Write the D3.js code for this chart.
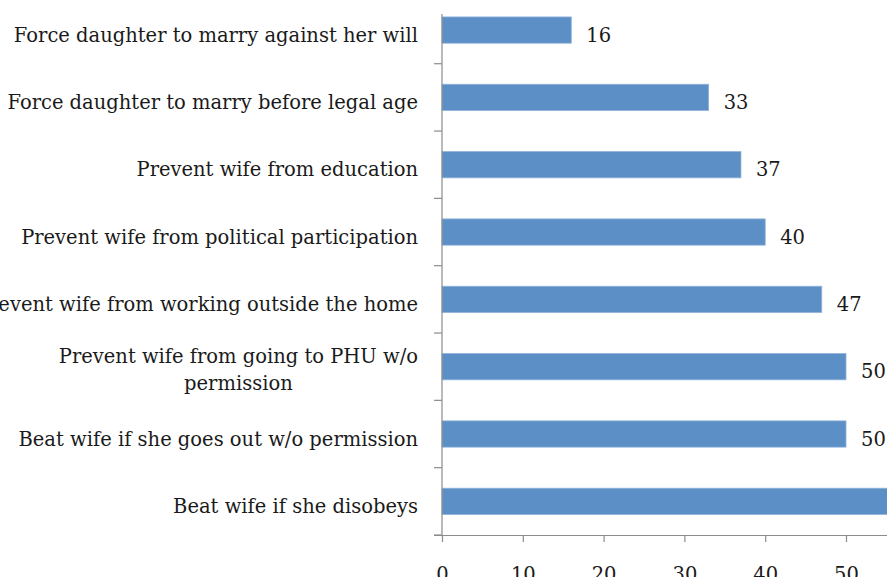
<!DOCTYPE html>
<html>
<head>
<meta charset="utf-8">
<script src="https://cdn.jsdelivr.net/npm/d3@7"></script>
<style>
  html, body { margin: 0; padding: 0; background: #fff; overflow: hidden; }
  svg { display: block; }
  text { font-family: "DejaVu Serif", "Liberation Serif", serif; fill: #1a1a1a; }
</style>
</head>
<body>
<svg id="chart" width="887" height="577"></svg>
<script>
// Share of respondents (%) who say a husband/father may do each of the following
const categories = [
  "Force daughter to marry against her will",
  "Force daughter to marry before legal age",
  "Prevent wife from education",
  "Prevent wife from political participation",
  "Prevent wife from working outside the home",
  "Prevent wife from going to PHU w/o permission",
  "Beat wife if she goes out w/o permission",
  "Beat wife if she disobeys"
];
const values = [16, 33, 37, 40, 47, 50, 50, 58];
const xTicks = [0, 10, 20, 30, 40, 50];

// Label lines (long labels wrap onto two lines)
const labelLines = [
  ["Force daughter to marry against her will"],
  ["Force daughter to marry before legal age"],
  ["Prevent wife from education"],
  ["Prevent wife from political participation"],
  ["Prevent wife from working outside the home"],
  ["Prevent wife from going to PHU w/o", "permission"],
  ["Beat wife if she goes out w/o permission"],
  ["Beat wife if she disobeys"]
];

const W = 887, H = 577;
const svg = d3.select("#chart");
const fontSize = 19.5;
const baseOff = 11.5;   // baseline offset from bar centre

const x = d3.scaleLinear().domain([0, 70]).range([442, 442 + 70 * 8.08]);
const y = d3.scaleBand().domain(categories).range([-3.6, 535]).paddingInner(0.61).paddingOuter(0.305);

// bars
svg.append("g").selectAll("rect")
  .data(categories)
  .join("rect")
  .attr("x", x(0))
  .attr("y", d => y(d))
  .attr("width", (d, i) => x(values[i]) - x(0))
  .attr("height", y.bandwidth())
  .attr("fill", "#5b8fc5")
  .attr("stroke", "#8fb3db")
  .attr("stroke-width", 0.8);

// value labels (only those that land inside the drawing area)
const shown = categories.map((c, i) => i).filter(i => x(values[i]) + 15 < W - 20);
svg.append("g").selectAll("text")
  .data(shown)
  .join("text")
  .attr("x", i => x(values[i]) + 15)
  .attr("y", i => y(categories[i]) + y.bandwidth() / 2 + baseOff)
  .attr("font-size", fontSize)
  .text(i => values[i]);

// category axis line and tick marks
const yStep = y.step();
const tickYs = d3.range(categories.length + 1).map(i => -3.6 + i * yStep);
svg.append("line")
  .attr("x1", x(0)).attr("x2", x(0))
  .attr("y1", 14).attr("y2", 535)
  .attr("stroke", "#8c8c8c").attr("stroke-width", 1.2);
svg.append("g").selectAll("line")
  .data(tickYs)
  .join("line")
  .attr("x1", x(0) - 8).attr("x2", x(0))
  .attr("y1", d => d).attr("y2", d => d)
  .attr("stroke", "#8c8c8c").attr("stroke-width", 1.2);

// value axis
const xAxis = d3.axisBottom(x).tickValues(xTicks).tickSize(7);
const gx = svg.append("g").attr("transform", "translate(0,535)").call(xAxis);
gx.select(".domain").attr("stroke", "#8c8c8c").attr("stroke-width", 1.2)
  .attr("d", `M${x(0) - 8},0.5H${x(70)}`);
gx.selectAll(".tick line").attr("stroke", "#8c8c8c").attr("stroke-width", 1.2);
gx.selectAll(".tick text")
  .attr("y", 46).attr("dy", null)
  .attr("font-size", fontSize)
  .attr("font-family", "DejaVu Serif, Liberation Serif, serif").attr("fill", "#1a1a1a");

// category labels
const labelRight = 418;
const lh = 27;
const lg = svg.append("g");
categories.forEach((c, i) => {
  const lines = labelLines[i];
  const cy = y(c) + y.bandwidth() / 2;
  const t = lg.append("text")
    .attr("font-size", fontSize)
    .attr("text-anchor", lines.length > 1 ? "middle" : "end");
  if (lines.length === 1) {
    t.attr("x", labelRight).attr("y", cy + baseOff).text(lines[0]);
  } else {
    // measure first line to centre the block against the right edge
    const probe = lg.append("text").attr("font-size", fontSize).text(lines[0]);
    const w = probe.node().getComputedTextLength();
    probe.remove();
    const cx = labelRight - w / 2;
    lines.forEach((ln, k) => {
      t.append("tspan")
        .attr("x", cx)
        .attr("y", cy - 3.5 + k * lh)
        .text(ln);
    });
  }
});
</script>
</body>
</html>
